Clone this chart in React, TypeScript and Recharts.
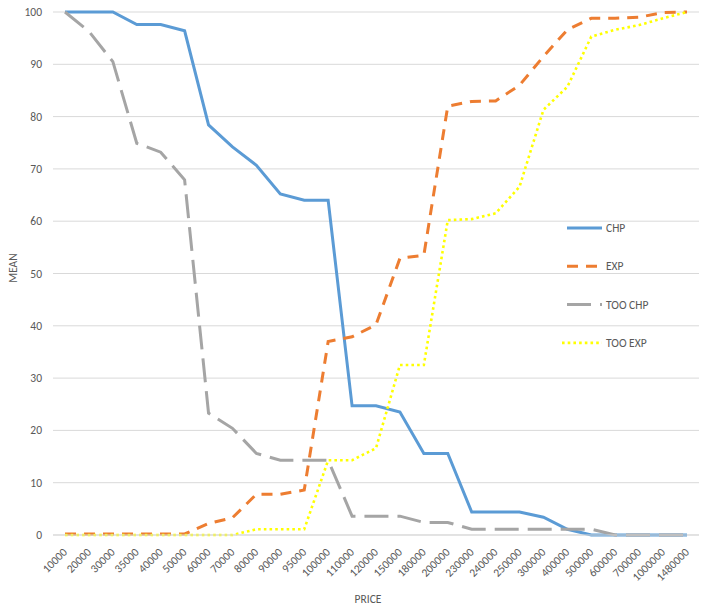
import React from "react";
import {
  LineChart,
  Line,
  XAxis,
  YAxis,
  CartesianGrid,
  Legend,
  Label,
} from "recharts";

// 가격 구간 (카테고리)
const prices = [
  "10000", "20000", "30000", "35000", "40000", "50000", "60000", "70000",
  "80000", "90000", "95000", "100000", "110000", "120000", "150000",
  "180000", "200000", "230000", "240000", "250000", "300000", "400000",
  "500000", "600000", "700000", "1000000", "1480000",
];

// 시리즈 값 (MEAN, %)
const chp = [
  100, 100, 100, 97.6, 97.6, 96.4, 78.4, 74.2, 70.7, 65.2, 64.0, 64.0, 24.7,
  24.7, 23.5, 15.6, 15.6, 4.4, 4.4, 4.4, 3.4, 1.1, 0, 0, 0, 0, 0,
];
const exp = [
  0.2, 0.2, 0.2, 0.2, 0.2, 0.2, 2.2, 3.3, 7.8, 7.8, 8.6, 37.0, 37.9, 40.2,
  52.9, 53.5, 82.0, 82.9, 83.0, 86.0, 91.5, 96.6, 98.8, 98.8, 99.0, 99.9, 100,
];
const tooChp = [
  100, 96.3, 90.5, 74.9, 73.2, 67.9, 23.3, 20.4, 15.6, 14.3, 14.3, 14.3, 3.6,
  3.6, 3.6, 2.4, 2.4, 1.1, 1.1, 1.1, 1.1, 1.1, 1.1, 0, 0, 0, 0,
];
const tooExp = [
  0, 0, 0, 0, 0, 0, 0, 0, 1.1, 1.1, 1.1, 14.3, 14.3, 16.6, 32.5, 32.5, 60.2,
  60.4, 61.5, 66.6, 81.3, 85.7, 95.3, 96.6, 97.5, 98.8, 100,
];

const yTicks = [0, 10, 20, 30, 40, 50, 60, 70, 80, 90, 100];

const FONT = "Carlito, Calibri, 'Liberation Sans', sans-serif";
const TEXT_COLOR = "#595959";

// 시리즈 스타일
const SERIES = [
  { key: "CHP", color: "#5B9BD5", width: 3, dash: undefined as string | undefined },
  { key: "EXP", color: "#ED7D31", width: 3, dash: "11 8" },
  { key: "TOO CHP", color: "#A5A5A5", width: 3, dash: "24 9" },
  { key: "TOO EXP", color: "#FFFF00", width: 2.6, dash: "2.6 3.1" },
];

const data = prices.map((p, i) => ({
  price: p,
  CHP: chp[i],
  EXP: exp[i],
  "TOO CHP": tooChp[i],
  "TOO EXP": tooExp[i],
}));

// x축 라벨 -45도 회전
const PriceTick = (props: any) => {
  const { x, y, payload } = props;
  return (
    <g transform={`translate(${x},${y + 13}) rotate(-45)`}>
      <text
        x={0}
        y={0}
        dy="0.35em"
        textAnchor="end"
        fill={TEXT_COLOR}
        fontSize={11.5}
        fontFamily={FONT}
      >
        {payload.value}
      </text>
    </g>
  );
};

// 오른쪽 범례 (세로)
const SideLegend = () => (
  <svg width={130} height={160}>
    {SERIES.map((s, i) => {
      const y = 13 + i * 38.3;
      return (
        <g key={s.key}>
          <line
            x1={s.key === "TOO EXP" ? 2 : 7}
            x2={42}
            y1={y}
            y2={y}
            stroke={s.color}
            strokeWidth={s.width}
            strokeDasharray={s.dash}
          />
          <text
            x={46}
            y={y}
            dy="0.35em"
            fill={TEXT_COLOR}
            fontSize={11.5}
            fontFamily={FONT}
          >
            {s.key}
          </text>
        </g>
      );
    })}
  </svg>
);

export default function App() {
  return (
    <div style={{ position: "absolute", left: 0, top: 0, background: "#fff" }}>
      <LineChart
        width={701}
        height={608}
        data={data}
        margin={{ top: 12, right: 2, bottom: 0, left: 0 }}
      >
        <CartesianGrid vertical={false} stroke="#D9D9D9" />
        <XAxis
          dataKey="price"
          interval={0}
          padding={{ left: 12, right: 12 }}
          axisLine={{ stroke: "#D9D9D9" }}
          tickLine={false}
          tickSize={0}
          height={73}
          tick={<PriceTick />}
        >
          <Label
            content={() => (
              <text
                x={368}
                y={599}
                dy="0.35em"
                textAnchor="middle"
                fill={TEXT_COLOR}
                fontSize={11.5}
                fontFamily={FONT}
              >
                PRICE
              </text>
            )}
          />
        </XAxis>
        <YAxis
          domain={[0, 100]}
          ticks={yTicks}
          width={53}
          axisLine={false}
          tickLine={false}
          tickSize={0}
          tickMargin={11}
          tick={{ fill: TEXT_COLOR, fontSize: 11.5, fontFamily: FONT }}
        >
          <Label
            content={() => (
              <text
                x={13}
                y={268}
                dy="0.35em"
                textAnchor="middle"
                transform="rotate(-90, 13, 268)"
                fill={TEXT_COLOR}
                fontSize={11.5}
                fontFamily={FONT}
              >
                MEAN
              </text>
            )}
          />
        </YAxis>
        <Legend
          layout="horizontal"
          verticalAlign="middle"
          content={<SideLegend />}
          wrapperStyle={{ position: "absolute", left: 560, top: 215, width: 130, height: 160 }}
        />
        {SERIES.map((s) => (
          <Line
            key={s.key}
            type="linear"
            dataKey={s.key}
            stroke={s.color}
            strokeWidth={s.width}
            strokeDasharray={s.dash}
            dot={false}
            activeDot={false}
            isAnimationActive={false}
          />
        ))}
      </LineChart>
    </div>
  );
}
